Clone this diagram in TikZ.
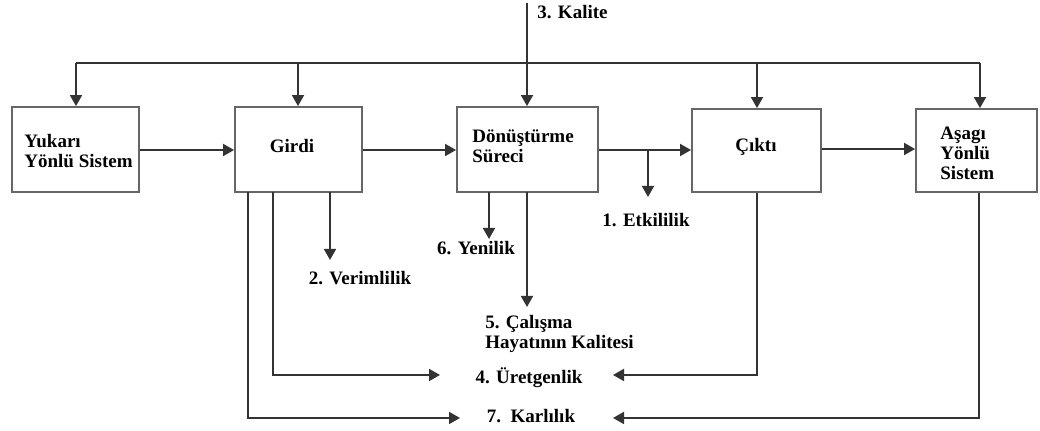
\documentclass[tikz,border=0pt]{standalone}
\usepackage{fontspec}
\setmainfont{Liberation Serif}
\usetikzlibrary{arrows.meta}
\tikzset{
  blk/.style={draw=black!60, line width=0.9pt, minimum height=42.5pt, inner sep=0pt},
  lbl/.style={font=\bfseries\fontsize{9.5}{10}\selectfont, inner sep=0pt},
  conn/.style={draw=black!80, line width=0.9pt},
  arr/.style={conn, -{Triangle[length=5.5pt,width=6pt]}},
}
\begin{document}
\begin{tikzpicture}[x=0.5pt,y=-0.5pt]
\useasboundingbox (0,0) rectangle (1040,431);

% process boxes
\node[blk, minimum width=63.5pt] (yuk) at (75.5,149.5) {};
\node[lbl, anchor=west, align=left] at (24,151) {Yukarı\\Yönlü Sistem};
\node[blk, minimum width=63.5pt] (gir) at (298.5,149.5) {};
\node[lbl] at (292,146) {Girdi};
\node[blk, minimum width=70.5pt] (don) at (527.5,149.5) {};
\node[lbl, anchor=west, align=left] at (472,146) {Dönüştürme\\Süreci};
\node[blk, minimum width=64.5pt, minimum height=41.5pt] (cik) at (756.5,150.5) {};
\node[lbl] at (756,147) {Çıktı};
\node[blk, minimum width=60.5pt, minimum height=41.5pt] (asa) at (976.5,150.5) {};
\node[lbl, anchor=west, align=left] at (940,153) {Aşagı\\Yönlü\\Sistem};

% outcome labels
\node[lbl, anchor=west] (kal) at (537,12) {3. Kalite};
\node[lbl] (etk) at (646,220) {1. Etkililik};
\node[lbl] (ver) at (360,278) {2. Verimlilik};
\node[lbl] (yen) at (476,248) {6. Yenilik};
\node[lbl, anchor=west, align=left] (cal) at (485,334) {5. Çalışma\\Hayatının Kalitesi};
\node[lbl] (ure) at (529,378) {4. Üretgenlik};
\node[lbl] (kar) at (531,416) {7.\ \ Karlılık};

% junction points and free ends
\coordinate (busl) at (76,63);
\coordinate (busr) at (980,63);
\coordinate (kaltop) at (527,3);
\coordinate (etkj) at (648,150);
\coordinate (etke) at (648,197);
\coordinate (vers) at (330,192);
\coordinate (vere) at (330,260);
\coordinate (yens) at (489,192);
\coordinate (yene) at (489,239);
\coordinate (cals) at (527,192);
\coordinate (cale) at (527,307);
\coordinate (ures) at (273,192);
\coordinate (urel) at (440,375);
\coordinate (urer) at (613,375);
\coordinate (kars) at (248,192);
\coordinate (karl) at (460,418);
\coordinate (karr) at (613,418);

% main flow
\draw[arr] (yuk.east |- 0,150) -- (gir.west |- 0,150);
\draw[arr] (gir.east |- 0,150) -- (don.west |- 0,150);
\draw[arr] (don.east |- 0,150) -- (cik.west |- 0,150);
\draw[arr] (cik.east |- 0,149) -- (asa.west |- 0,149);

% top feedback bus
\draw[conn] (busl) -- (busr);
\draw[arr] (busl) -- (busl |- yuk.north);
\draw[arr] (298,63) -- (gir.north -| 298,0);
\draw[arr] (757,63) -- (cik.north -| 757,0);
\draw[arr] (busr) -- (busr |- asa.north);
\draw[arr] (kaltop) -- (kaltop |- don.north);

% branches to outcomes
\draw[arr] (etkj) -- (etke);
\draw[arr] (vers) -- (vere);
\draw[arr] (yens) -- (yene);
\draw[arr] (cals) -- (cale);
\draw[arr] (ures) |- (urel);
\draw[arr] (cik.south -| 757,0) |- (urer);
\draw[arr] (kars) |- (karl);
\draw[arr] (asa.south -| 979,0) |- (karr);
\end{tikzpicture}
\end{document}
